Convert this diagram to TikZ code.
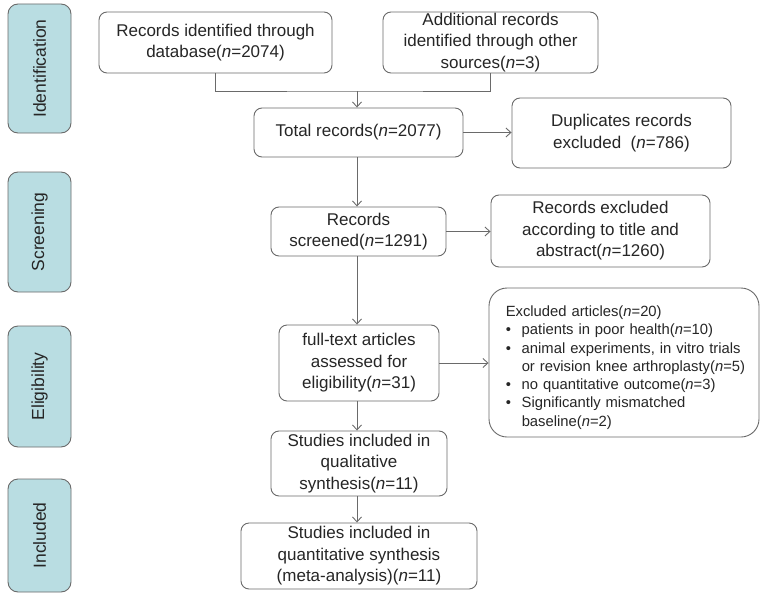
\documentclass[tikz,border=0pt]{standalone}
\usepackage{fontspec}
\setmainfont{Liberation Sans}
\usetikzlibrary{arrows.meta}
\definecolor{linegray}{HTML}{6A6A6A}
\definecolor{txtgray}{HTML}{262626}
\definecolor{stagefill}{HTML}{B9DDE2}
\newcommand\mainfs{\fontsize{17}{21.5}\selectfont}
\newcommand\smallfs{\fontsize{14.8}{18.3}\selectfont}
\newcommand\stagefs{\fontsize{17.5}{21}\selectfont}
\newcommand\nn{\textit{n}}
\begin{document}
\begin{tikzpicture}[x=1pt,y=-1pt,
  box/.style={draw=linegray, line width=0.9pt, rounded corners=8pt, fill=white,
    align=center, inner sep=0pt, font=\mainfs, text=txtgray},
  stagebox/.style={draw=linegray, line width=0.9pt, rounded corners=10pt, fill=stagefill,
    rotate=90, inner sep=0pt, font=\stagefs, text=txtgray},
  conn/.style={draw=linegray, line width=0.9pt},
  arr/.style={conn, -{Straight Barb[length=5pt,width=9pt]}}]
\useasboundingbox (0,0) rectangle (765,610);
% stage labels
\node[stagebox, minimum width=129pt, minimum height=63pt] (s1) at (39.5,68.5) {Identification};
\node[stagebox, minimum width=120pt, minimum height=63pt] (s2) at (39.5,232) {Screening};
\node[stagebox, minimum width=121pt, minimum height=63pt] (s3) at (39.5,386.5) {Eligibility};
\node[stagebox, minimum width=113pt, minimum height=63pt] (s4) at (39.5,535.5) {Included};
% boxes
\node[box, minimum width=233pt, minimum height=61pt] (db) at (215.5,42.5)
  {Records identified through\\database(\nn=2074)};
\node[box, minimum width=215pt, minimum height=61pt] (add) at (490.5,42.5)
  {Additional records\\identified through other\\sources(\nn=3)};
\node[box, minimum width=209pt, minimum height=49pt] (total) at (358.5,132.5)
  {Total records(\nn=2077)};
\node[box, minimum width=219pt, minimum height=70pt] (dup) at (621.5,133)
  {Duplicates records\\excluded\ \ (\nn=786)};
\node[box, minimum width=175pt, minimum height=49pt] (scr) at (358.5,231.5)
  {Records\\screened(\nn=1291)};
\node[box, minimum width=219pt, minimum height=72pt] (exa) at (600.5,231)
  {Records excluded\\according to title and\\abstract(\nn=1260)};
\node[box, minimum width=160pt, minimum height=76pt] (full) at (359,363)
  {full-text articles\\assessed for\\eligibility(\nn=31)};
\node[box, rounded corners=18pt, minimum width=270pt, minimum height=149pt] (exart) at (624,362.5) {};
\node[align=left, text width=240pt, inner sep=0pt, font=\smallfs, text=txtgray, anchor=west]
  (exartt) at ([xshift=17pt,yshift=-5pt]exart.west)
  {Excluded articles(\nn=20)\\
   \makebox[16pt][l]{\textbullet}patients in poor health(\nn=10)\\
   \makebox[16pt][l]{\textbullet}animal experiments, in vitro trials\\
   \makebox[16pt][l]{}or revision knee arthroplasty(\nn=5)\\
   \makebox[16pt][l]{\textbullet}no quantitative outcome(\nn=3)\\
   \makebox[16pt][l]{\textbullet}Significantly mismatched\\
   \makebox[16pt][l]{}baseline(\nn=2)};
\node[box, minimum width=176pt, minimum height=65pt] (qual) at (359,463.5)
  {Studies included in\\qualitative\\synthesis(\nn=11)};
\node[box, minimum width=236pt, minimum height=66pt] (quant) at (359,556)
  {Studies included in\\quantitative synthesis\\(meta-analysis)(\nn=11)};
% connectors
\coordinate (jn) at (357,91);
\coordinate (spine) at (357,0);
\draw[conn] (db.south) |- (jn) -| (add.south);
\draw[arr] (jn) -- (jn |- total.north);
\draw[arr] (total.east) -- (total.east -| dup.west);
\draw[arr] (total.south -| spine) -- (scr.north -| spine);
\draw[arr] (scr.east) -- (scr.east -| exa.west);
\draw[arr] (scr.south -| spine) -- (full.north -| spine);
\draw[arr] (full.east) -- (full.east -| exart.west);
\draw[arr] (full.south -| spine) -- (qual.north -| spine);
\draw[arr] (qual.south -| spine) -- (quant.north -| spine);
\end{tikzpicture}
\end{document}
